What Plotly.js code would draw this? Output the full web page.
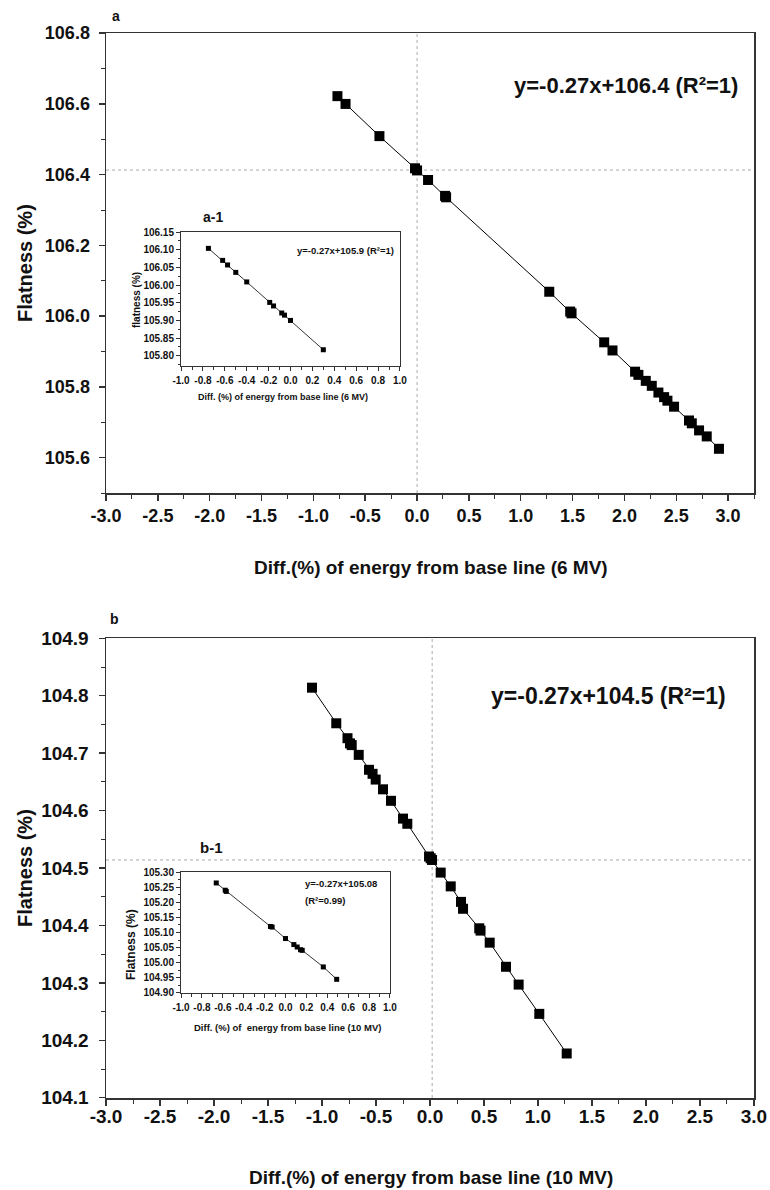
<!DOCTYPE html>
<html><head><meta charset="utf-8">
<script src="https://cdn.plot.ly/plotly-3.0.1.min.js"></script>
<style>html,body{margin:0;padding:0;background:#fff}#chart{width:770px;height:1190px}</style>
</head><body><div id="chart"></div>
<script>
// ---------- DATA ----------
// Panel a (6 MV)
const a_x = [-0.768, -0.69, -0.363, -0.02, 0.0, 0.106, 0.27, 0.28, 1.275, 1.477, 1.49, 1.805, 1.885, 2.103, 2.135, 2.206, 2.264, 2.328, 2.383, 2.415, 2.479, 2.623, 2.65, 2.72, 2.794, 2.912];
const a_y = [106.622, 106.6, 106.509, 106.418, 106.412, 106.385, 106.34, 106.336, 106.069, 106.013, 106.008, 105.926, 105.903, 105.843, 105.834, 105.817, 105.803, 105.784, 105.771, 105.761, 105.744, 105.705, 105.697, 105.677, 105.66, 105.625];
const a_ref_x = 0.0, a_ref_y = 106.413;
// Inset a-1
const a1_x = [-0.75, -0.62, -0.575, -0.5, -0.4, -0.19, -0.155, -0.08, -0.055, 0.0, 0.3];
const a1_y = [106.104, 106.07, 106.057, 106.036, 106.009, 105.951, 105.941, 105.921, 105.915, 105.9, 105.817];
// Panel b (10 MV)
const b_x = [-1.093, -0.868, -0.764, -0.741, -0.725, -0.66, -0.565, -0.532, -0.503, -0.435, -0.361, -0.25, -0.21, -0.009, 0.006, 0.019, 0.099, 0.192, 0.287, 0.306, 0.456, 0.468, 0.553, 0.704, 0.821, 1.012, 1.266];
const b_y = [104.814, 104.752, 104.726, 104.717, 104.714, 104.697, 104.671, 104.664, 104.654, 104.637, 104.617, 104.586, 104.577, 104.52, 104.517, 104.514, 104.492, 104.468, 104.441, 104.429, 104.395, 104.391, 104.37, 104.328, 104.297, 104.246, 104.177];
const b_ref_x = 0.02, b_ref_y = 104.514;
// Inset b-1
const b1_x = [-0.663, -0.577, -0.567, -0.144, -0.128, 0.0, 0.08, 0.112, 0.144, 0.16, 0.362, 0.49];
const b1_y = [105.264, 105.24, 105.236, 105.12, 105.118, 105.08, 105.06, 105.052, 105.043, 105.041, 104.986, 104.945];

// Tick values / labels
const main_xtickvals = [-3, -2.5, -2, -1.5, -1, -0.5, 0, 0.5, 1, 1.5, 2, 2.5, 3];
const main_xticktext = ["-3.0", "-2.5", "-2.0", "-1.5", "-1.0", "-0.5", "0.0", "0.5", "1.0", "1.5", "2.0", "2.5", "3.0"];
const a_ytickvals = [105.6, 105.8, 106.0, 106.2, 106.4, 106.6, 106.8];
const a_yticktext = ["105.6", "105.8", "106.0", "106.2", "106.4", "106.6", "106.8"];
const b_ytickvals = [104.1, 104.2, 104.3, 104.4, 104.5, 104.6, 104.7, 104.8, 104.9];
const b_yticktext = ["104.1", "104.2", "104.3", "104.4", "104.5", "104.6", "104.7", "104.8", "104.9"];
const in_xtickvals = [-1, -0.8, -0.6, -0.4, -0.2, 0, 0.2, 0.4, 0.6, 0.8, 1];
const in_xticktext = ["-1.0", "-0.8", "-0.6", "-0.4", "-0.2", "0.0", "0.2", "0.4", "0.6", "0.8", "1.0"];
const a1_ytickvals = [105.80, 105.85, 105.90, 105.95, 106.00, 106.05, 106.10, 106.15];
const a1_yticktext = ["105.80", "105.85", "105.90", "105.95", "106.00", "106.05", "106.10", "106.15"];
const b1_ytickvals = [104.90, 104.95, 105.00, 105.05, 105.10, 105.15, 105.20, 105.25, 105.30];
const b1_yticktext = ["104.90", "104.95", "105.00", "105.05", "105.10", "105.15", "105.20", "105.25", "105.30"];

// Texts
const eqA = "y=-0.27x+106.4 (R\u00B2=1)";
const eqB = "y=-0.27x+104.5 (R\u00B2=1)";
const eqA1 = "y=-0.27x+105.9 (R\u00B2=1)";
const eqB1a = "y=-0.27x+105.08";
const eqB1b = "(R\u00B2=0.99)";

// ---------- LAYOUT ----------
const W = 770, H = 1190;
const PX = v => v / W, PY = v => 1 - v / H;
const F = "Liberation Sans, Arial, sans-serif";
const AX = '#333';

function axis(o) {
  const base = {
    showgrid: false, zeroline: false, showline: true, mirror: true,
    linecolor: AX, linewidth: 1.5, ticks: 'outside', ticklen: 6, tickwidth: 1.5,
    tickcolor: AX, tickmode: 'array', tickangle: 0, fixedrange: true
  };
  return Object.assign(base, o);
}
function minor(t0, dt, len) {
  return {tickmode: 'linear', tick0: t0, dtick: dt, ticks: 'outside', ticklen: len, tickwidth: 1, tickcolor: AX};
}

const mainMarker = {symbol: 'square', size: 10, color: '#000'};
const inMarker = {symbol: 'square', size: 5, color: '#000'};

const traces = [
  {x: a_x, y: a_y, xaxis: 'x', yaxis: 'y', mode: 'lines+markers', marker: mainMarker, line: {color: '#000', width: 1}},
  {x: b_x, y: b_y, xaxis: 'x2', yaxis: 'y2', mode: 'lines+markers', marker: mainMarker, line: {color: '#000', width: 1}},
  {x: a1_x, y: a1_y, xaxis: 'x3', yaxis: 'y3', mode: 'lines+markers', marker: inMarker, line: {color: '#000', width: 0.8}},
  {x: b1_x, y: b1_y, xaxis: 'x4', yaxis: 'y4', mode: 'lines+markers', marker: inMarker, line: {color: '#000', width: 0.8}}
];

const tfMain = {family: F, size: 18, color: '#111', weight: 'bold'};
const tfB = {family: F, size: 19, color: '#111', weight: 'bold'};
const tfIn = {family: F, size: 10, color: '#111', weight: 'bold'};

const layout = {
  width: W, height: H, margin: {l: 0, r: 0, t: 0, b: 0},
  paper_bgcolor: '#fff', plot_bgcolor: '#fff', showlegend: false,
  xaxis: axis({domain: [PX(106), PX(754)], anchor: 'y', range: [-3.0005, 3.25],
    tickvals: main_xtickvals, ticktext: main_xticktext, tickfont: tfMain, ticklabelstandoff: 0,
    minor: minor(-3, 0.25, 4)}),
  yaxis: axis({domain: [PY(493), PY(33)], anchor: 'x', range: [105.5, 106.8005],
    tickvals: a_ytickvals, ticktext: a_yticktext, tickfont: tfMain, ticklabelstandoff: 5,
    minor: minor(105.5, 0.1, 4)}),
  xaxis2: axis({domain: [PX(106), PX(754)], anchor: 'y2', range: [-3.0005, 3.0005],
    tickvals: main_xtickvals, ticktext: main_xticktext, tickfont: tfB, ticklabelstandoff: -5,
    minor: minor(-3, 0.25, 4)}),
  yaxis2: axis({domain: [PY(1098), PY(638)], anchor: 'x2', range: [104.0995, 104.9005],
    tickvals: b_ytickvals, ticktext: b_yticktext, tickfont: tfB, ticklabelstandoff: 6,
    minor: minor(104.1, 0.05, 4)}),
  xaxis3: axis({domain: [PX(181), PX(400)], anchor: 'y3', range: [-1.0005, 1.0005],
    tickvals: in_xtickvals, ticktext: in_xticktext, tickfont: tfIn, linewidth: 1, tickwidth: 1,
    ticklen: 4, ticklabelstandoff: 1, minor: minor(-1, 0.1, 2.5)}),
  yaxis3: axis({domain: [PY(366), PY(232)], anchor: 'x3', range: [105.771, 106.1503],
    tickvals: a1_ytickvals, ticktext: a1_yticktext, tickfont: tfIn, linewidth: 1, tickwidth: 1,
    ticklen: 4, ticklabelstandoff: 0, minor: minor(105.8, 0.025, 2.5)}),
  xaxis4: axis({domain: [PX(181), PX(390)], anchor: 'y4', range: [-1.0005, 1.0005],
    tickvals: in_xtickvals, ticktext: in_xticktext, tickfont: tfIn, linewidth: 1, tickwidth: 1,
    ticklen: 4, ticklabelstandoff: 1, minor: minor(-1, 0.1, 2.5)}),
  yaxis4: axis({domain: [PY(993), PY(872)], anchor: 'x4', range: [104.8997, 105.3003],
    tickvals: b1_ytickvals, ticktext: b1_yticktext, tickfont: tfIn, linewidth: 1, tickwidth: 1,
    ticklen: 4, ticklabelstandoff: 0, minor: minor(104.9, 0.025, 2.5)}),
  shapes: [
    {type: 'line', layer: 'below', xref: 'x', yref: 'y domain', x0: a_ref_x, x1: a_ref_x, y0: 0, y1: 1, line: {color: '#aaa', width: 1, dash: 'dot'}},
    {type: 'line', layer: 'below', xref: 'x domain', yref: 'y', x0: 0, x1: 1, y0: a_ref_y, y1: a_ref_y, line: {color: '#aaa', width: 1, dash: 'dot'}},
    {type: 'line', layer: 'below', xref: 'x2', yref: 'y2 domain', x0: b_ref_x, x1: b_ref_x, y0: 0, y1: 1, line: {color: '#aaa', width: 1, dash: 'dot'}},
    {type: 'line', layer: 'below', xref: 'x2 domain', yref: 'y2', x0: 0, x1: 1, y0: b_ref_y, y1: b_ref_y, line: {color: '#aaa', width: 1, dash: 'dot'}}
  ],
  annotations: []
};

function ann(text, x, y, font, extra) {
  layout.annotations.push(Object.assign({text: text, xref: 'paper', yref: 'paper', x: PX(x), y: PY(y),
    xanchor: 'center', yanchor: 'middle', showarrow: false, font: font}, extra || {}));
}
const bold = size => ({family: F, size: size, color: '#111', weight: 'bold'});

// panel labels
ann('a', 116, 16, bold(14));
ann('b', 114, 619, bold(14));
ann('a-1', 213, 217, bold(14));
ann('b-1', 212, 847, bold(15));
// axis titles main
ann('Diff.(%) of energy from base line (6 MV)', 431, 567, bold(19));
ann('Flatness (%)', 25, 263, bold(20), {textangle: -90});
ann('Diff.(%) of energy from base line (10 MV)', 431, 1177, bold(19));
ann('Flatness (%)', 25, 868, bold(20), {textangle: -90});
// inset titles
ann('Diff. (%) of energy from base line (6 MV)', 283, 397, bold(9));
ann('flatness (%)', 136, 300, bold(10), {textangle: -90});
ann('Diff. (%) of  energy from base line (10 MV)', 287, 1027, bold(9.5));
ann('Flatness (%)', 131, 945, bold(12), {textangle: -90});
// equations
ann(eqA, 740, 86, bold(22), {xanchor: 'right'});
ann(eqB, 728, 696, bold(23), {xanchor: 'right'});
ann(eqA1, 396, 250, bold(9.5), {xanchor: 'right'});
ann(eqB1a, 303, 883, bold(9.5), {xanchor: 'left'});
ann(eqB1b, 303, 900, bold(9.5), {xanchor: 'left'});

Plotly.newPlot('chart', traces, layout, {displayModeBar: false, staticPlot: true});
</script>
</body></html>
